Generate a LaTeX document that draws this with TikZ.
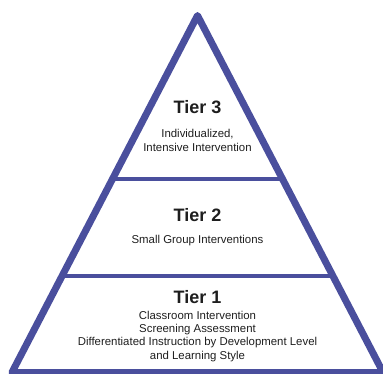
\documentclass[tikz,border=0pt]{standalone}
\usepackage{fontspec}
\setmainfont{Liberation Sans}
\usetikzlibrary{calc}
\definecolor{tierblue}{RGB}{74,79,157}
\definecolor{tiertext}{RGB}{30,30,30}
\begin{document}
\begin{tikzpicture}[x=1pt,y=-1pt,
  outline/.style={draw=tierblue,line width=7pt,line join=round},
  divider/.style={draw=tierblue,line width=3.6pt},
  tiertitle/.style={anchor=base,inner sep=0pt,text=tiertext,font=\fontsize{18}{20}\selectfont\bfseries},
  tierline/.style={anchor=base,inner sep=0pt,text=tiertext,font=\fontsize{11.4}{13.4}\selectfont}]
\useasboundingbox (0,0) rectangle (383,373);
\clip (0,0) rectangle (383,373);
\coordinate (apex) at (197.5,15.5);
\coordinate (bl) at (11.9,372.5);
\coordinate (br) at (383.1,372.5);
\coordinate (d1l) at ($(apex)!0.458!(bl)$);
\coordinate (d1r) at ($(apex)!0.458!(br)$);
\coordinate (d2l) at ($(apex)!0.7297!(bl)$);
\coordinate (d2r) at ($(apex)!0.7297!(br)$);
\draw[divider] (d1l) -- (d1r);
\draw[divider] (d2l) -- (d2r);
\draw[outline] (apex) -- (bl) -- (br) -- cycle;
\node[tiertitle] (t3) at (197.5,113.5) {Tier 3};
\node[tierline] (t3a) at (197.5,137) {Individualized,};
\node[tierline] (t3b) at (197.5,151) {Intensive Intervention};
\node[tiertitle] (t2) at (197.5,221.5) {Tier 2};
\node[tierline] (t2a) at (197.5,243) {Small Group Interventions};
\node[tiertitle] (t1) at (197.5,303.5) {Tier 1};
\node[tierline] (t1a) at (197.5,319) {Classroom Intervention};
\node[tierline] (t1b) at (197.5,332.4) {Screening Assessment};
\node[tierline] (t1c) at (197.5,345.8) {Differentiated Instruction by Development Level};
\node[tierline] (t1d) at (197.5,359.2) {and Learning Style};
\end{tikzpicture}
\end{document}
